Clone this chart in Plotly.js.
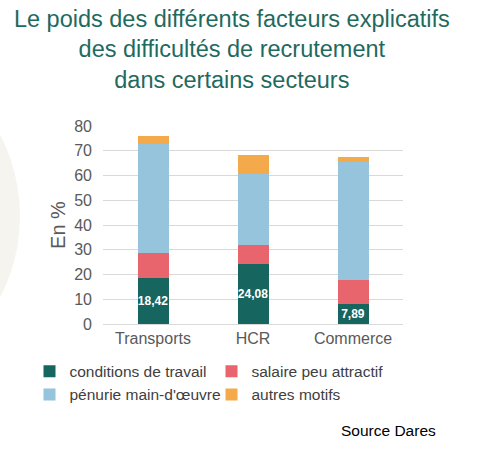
<!DOCTYPE html>
<html>
<head>
<meta charset="utf-8">
<script src="https://cdn.plot.ly/plotly-3.0.1.min.js"></script>
<style>html,body{margin:0;padding:0;background:#fff;}#chart{width:479px;height:460px;}</style>
</head>
<body>
<div id="chart"></div>
<script>
var categories = ["Transports", "HCR", "Commerce"];
var conditionsTravail = [18.42, 24.08, 7.89];
var salairePeuAttractif = [10.1, 7.9, 9.8];
var penurieMainOeuvre = [44.2, 28.7, 47.8];
var autresMotifs = [3.2, 7.6, 2.0];
var seriesNames = ["conditions de travail", "salaire peu attractif", "pénurie main-d'œuvre", "autres motifs"];
var yTicks = [0, 10, 20, 30, 40, 50, 60, 70, 80];

var colors = ["#17655f", "#e9656d", "#96c4dc", "#f4a94b"];
var allSeries = [conditionsTravail, salairePeuAttractif, penurieMainOeuvre, autresMotifs];

var traces = allSeries.map(function (vals, i) {
  var t = {
    type: "bar",
    name: seriesNames[i],
    x: categories,
    y: vals,
    width: 0.31,
    marker: { color: colors[i], line: { width: 0 } },
    hoverinfo: "none"
  };
  if (i === 0) {
    t.text = vals.map(function (v) { return v.toFixed(2).replace(".", ","); });
    t.textposition = "inside";
    t.insidetextanchor = "middle";
    t.textangle = 0;
    t.textfont = { color: "#ffffff", size: 12, family: "Liberation Sans, Arial, sans-serif", weight: "bold" };
    t.constraintext = "none";
  } else {
    t.textposition = "none";
  }
  return t;
});

var layout = {
  width: 479,
  height: 460,
  barmode: "stack",
  paper_bgcolor: "#ffffff",
  plot_bgcolor: "#ffffff",
  margin: { l: 103, r: 76, t: 126, b: 136, pad: 0 },
  font: { family: "Liberation Sans, Arial, sans-serif", color: "#595959" },
  title: {
    text: "Le poids des différents facteurs explicatifs<br>des difficultés de recrutement<br>dans certains secteurs",
    font: { size: 23.5, color: "#1f6a5f", family: "Liberation Sans, Arial, sans-serif" },
    x: 0.484, xanchor: "center", xref: "container",
    y: 0.942, yanchor: "top", yref: "container"
  },
  xaxis: {
    type: "category",
    tickfont: { size: 16, color: "#595959" },
    showgrid: false,
    showline: true,
    linecolor: "#d9d9d9",
    linewidth: 1,
    ticks: "",
    fixedrange: true
  },
  yaxis: {
    range: [0, 80],
    tickvals: yTicks,
    ticktext: yTicks.map(String),
    tickfont: { size: 16, color: "#595959" },
    showgrid: true,
    gridcolor: "#d9d9d9",
    gridwidth: 1,
    zeroline: false,
    showline: false,
    ticks: "",
    ticklabelstandoff: 10,
    title: { text: "En %", font: { size: 20, color: "#595959" }, standoff: 3 },
    fixedrange: true
  },
  showlegend: true,
  legend: {
    orientation: "h",
    x: -0.245, xanchor: "left",
    y: -0.155, yanchor: "top",
    font: { size: 15.5, color: "#404040" },
    entrywidth: 137,
    entrywidthmode: "pixels",
    itemwidth: 30,
    traceorder: "normal",
    bgcolor: "rgba(0,0,0,0)"
  },
  shapes: [{
    type: "circle",
    xref: "paper", yref: "paper",
    x0: -1.18, x1: -0.2767,
    y0: -0.24, y1: 1.33,
    fillcolor: "#f5f4ee",
    line: { width: 0 },
    layer: "below"
  }],
  annotations: [{
    text: "Source Dares",
    xref: "paper", yref: "paper",
    x: 1.117, xanchor: "right",
    y: -0.54, yanchor: "middle",
    showarrow: false,
    font: { size: 15.5, color: "#000000" }
  }],
  separators: ", "
};

Plotly.newPlot("chart", traces, layout, { displayModeBar: false, staticPlot: true });
</script>
</body>
</html>
